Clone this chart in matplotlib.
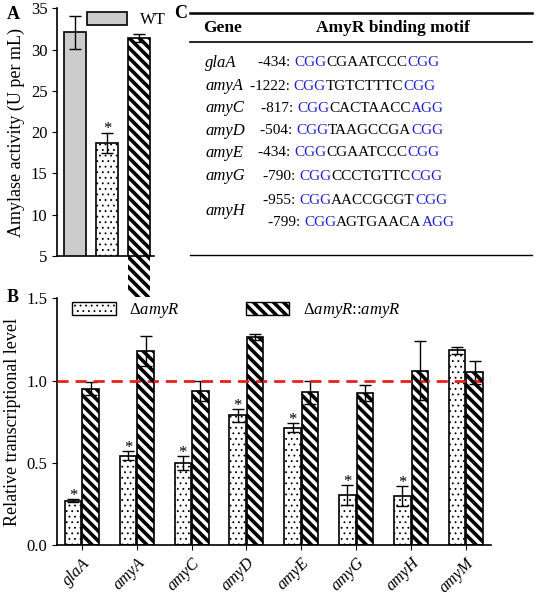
import matplotlib
matplotlib.use("Agg")
import matplotlib.pyplot as plt
from matplotlib.lines import Line2D
import numpy as np

plt.rcParams['font.family'] = ['Liberation Serif', 'DejaVu Serif']
plt.rcParams['font.size'] = 12
plt.rcParams['mathtext.fontset'] = 'custom'
plt.rcParams['mathtext.rm'] = 'Liberation Serif'
plt.rcParams['mathtext.it'] = 'Liberation Serif:italic'
plt.rcParams['hatch.linewidth'] = 0.6

# Panel A data
a_groups = ['WT', 'ΔamyR', 'ΔamyR::amyR']
a_vals = [32.1, 18.7, 31.4]
a_err = [2.0, 1.2, 0.5]

# Panel B data
genes = ['glaA', 'amyA', 'amyC', 'amyD', 'amyE', 'amyG', 'amyH', 'amyM']
del_vals = [0.27, 0.545, 0.50, 0.79, 0.715, 0.305, 0.30, 1.185]
del_err = [0.01, 0.03, 0.04, 0.04, 0.03, 0.06, 0.06, 0.02]
comp_vals = [0.95, 1.18, 0.935, 1.265, 0.93, 0.925, 1.06, 1.05]
comp_err = [0.04, 0.09, 0.06, 0.02, 0.07, 0.05, 0.18, 0.07]
del_sig = [True, True, True, True, True, True, True, False]

# Panel C data
c_genes = ['glaA', 'amyA', 'amyC', 'amyD', 'amyE', 'amyG', 'amyH', '']
c_pos = ['-434: ', '-1222: ', '-817: ', '-504: ', '-434: ', '-790: ', '-955: ', '-799: ']
c_motifs = [('CGG', 'CGAATCCC', 'CGG'), ('CGG', 'TGTCTTTC', 'CGG'), ('CGG', 'CACTAACC', 'AGG'),
            ('CGG', 'TAAGCCGA', 'CGG'), ('CGG', 'CGAATCCC', 'CGG'), ('CGG', 'CCCTGTTC', 'CGG'),
            ('CGG', 'AACCGCGT', 'CGG'), ('CGG', 'AGTGAACA', 'AGG')]

fig = plt.figure(figsize=(5.35, 5.92), dpi=100)
striped = []

def errb(ax, x, h, e):
    ax.errorbar(x, h, yerr=e, fmt='none', ecolor='black', elinewidth=1, capsize=4, capthick=1, zorder=5)

# Panel A
axA = fig.add_axes([0.107, 0.568, 0.18, 0.418])
axA.bar(0, a_vals[0], 0.68, color='#cccccc', edgecolor='black', linewidth=1.2, zorder=2, label='WT')
errb(axA, 0, a_vals[0], a_err[0])
axA.bar(1, a_vals[1], 0.68, color='white', edgecolor='black', linewidth=1.2, hatch='...', zorder=2)
errb(axA, 1, a_vals[1], a_err[1])
bc = axA.bar(2, a_vals[2], 0.68, color='white', edgecolor='black', linewidth=1.2, zorder=2)
errb(axA, 2, a_vals[2], a_err[2])
striped += list(bc)
axA.text(1, a_vals[1] + a_err[1] - 0.5, '*', ha='center', va='bottom', fontsize=12)
axA.set_ylim(5, 35)
axA.set_xlim(-0.55, 2.45)
axA.set_yticks(range(5, 36, 5))
axA.set_xticks([])
for s in ['top', 'right']:
    axA.spines[s].set_visible(False)
axA.spines['left'].set_linewidth(1.2)
axA.spines['bottom'].set_linewidth(1.2)
axA.set_ylabel('Amylase activity (U per mL)', fontsize=13)
axA.legend(loc='upper left', bbox_to_anchor=(0.15, 1.045), frameon=False, fontsize=12,
           handlelength=2.4, handleheight=0.8)
fig.text(0.012, 0.975, 'A', fontsize=13, fontweight='bold', va='center')

# Panel B
axB = fig.add_axes([0.107, 0.079, 0.81, 0.417])
x = np.arange(len(genes))
w = 0.3
b1 = axB.bar(x - 0.16, del_vals, w, color='white', edgecolor='black', linewidth=1.2, hatch='...', zorder=2)
errb(axB, x - 0.16, del_vals, del_err)
b2 = axB.bar(x + 0.16, comp_vals, w, color='white', edgecolor='black', linewidth=1.2, zorder=2)
errb(axB, x + 0.16, comp_vals, comp_err)
striped += list(b2)
for xi, v, e, s in zip(x, del_vals, del_err, del_sig):
    if s:
        axB.text(xi - 0.16, v + e - 0.03, '*', ha='center', va='bottom', fontsize=12)
axB.axhline(1.0, color='#e8201c', linestyle=(0, (4, 2.5)), linewidth=2, zorder=6)
axB.set_ylim(0, 1.5)
axB.set_xlim(-0.45, 7.45)
axB.set_yticks([0, 0.5, 1.0, 1.5])
axB.set_yticklabels(['0.0', '0.5', '1.0', '1.5'])
axB.set_xticks(x)
axB.set_xticklabels(genes, rotation=45, ha='right', rotation_mode='anchor', style='italic', fontsize=12)
for s in ['top', 'right']:
    axB.spines[s].set_visible(False)
axB.spines['left'].set_linewidth(1.2)
axB.spines['bottom'].set_linewidth(1.2)
axB.set_ylabel('Relative transcriptional level', fontsize=13)
leg_patch = plt.Rectangle((0, 0), 1, 1, facecolor='white', edgecolor='black', hatch='...')
leg_patch2 = plt.Rectangle((0, 0), 1, 1, facecolor='white', edgecolor='black')
leg = axB.legend(handles=[leg_patch, leg_patch2], labels=[r'Δ$\it{amyR}$', r'Δ$\it{amyR}$::$\it{amyR}$'],
                 loc='upper left', bbox_to_anchor=(0.0, 1.05), ncol=2, frameon=False, fontsize=12,
                 handlelength=2.6, handleheight=0.8, columnspacing=4)
fig.text(0.012, 0.497, 'B', fontsize=13, fontweight='bold', va='center')

# Panel C table
axC = fig.add_axes([0, 0, 1, 1], facecolor='none')
axC.set_xlim(0, 535)
axC.set_ylim(592, 0)
axC.axis('off')
axC.text(174, 13, 'C', fontsize=13, fontweight='bold', va='center')
axC.plot([190, 532], [13, 13], color='black', lw=1.8)
axC.plot([190, 532], [42, 42], color='black', lw=1.2)
axC.plot([190, 532], [255, 255], color='black', lw=1)
axC.text(203, 28, 'Gene', fontweight='bold', fontsize=12.5, va='center')
axC.text(393, 28, 'AmyR binding motif', fontweight='bold', fontsize=12.5, va='center', ha='center')
row_y = [63, 86, 108, 131, 153, 176, 200, 223]
pos_x = [258, 250, 261, 260, 258, 263, 263, 268]
gene_y = [63, 86, 108, 131, 153, 176, 211, None]
for g, gy in zip(c_genes, gene_y):
    if g:
        axC.text(205, gy, g, style='italic', fontsize=12, va='center')
for p, m, y0, x0 in zip(c_pos, c_motifs, row_y, pos_x):
    t = axC.text(x0, y0, p, fontsize=11, va='center')
    for seg, c in zip(m, ['#1f1fcc', 'black', '#1f1fcc']):
        t = axC.annotate(seg, xy=(1, 0), xycoords=t, va='bottom', ha='left', fontsize=11, color=c)

# thick diagonal stripes clipped to bar shapes (panel A complemented bar, panel B complemented bars, legend)
fig.canvas.draw()
patches = striped + [leg.get_patches()[1]]
for p in patches:
    bb = p.get_window_extent()
    sp = 10.0
    h = bb.height
    k = bb.x0 - h
    while k < bb.x1 + h:
        ln = Line2D([k, k + h + 20], [bb.y1 + 10, bb.y0 - 10], transform=None, color='black',
                    lw=2.6, solid_capstyle='butt', zorder=p.get_zorder() + 0.5)
        ln.set_clip_path(p)
        fig.add_artist(ln)
        k += sp

fig.savefig('out.png', dpi=100)
